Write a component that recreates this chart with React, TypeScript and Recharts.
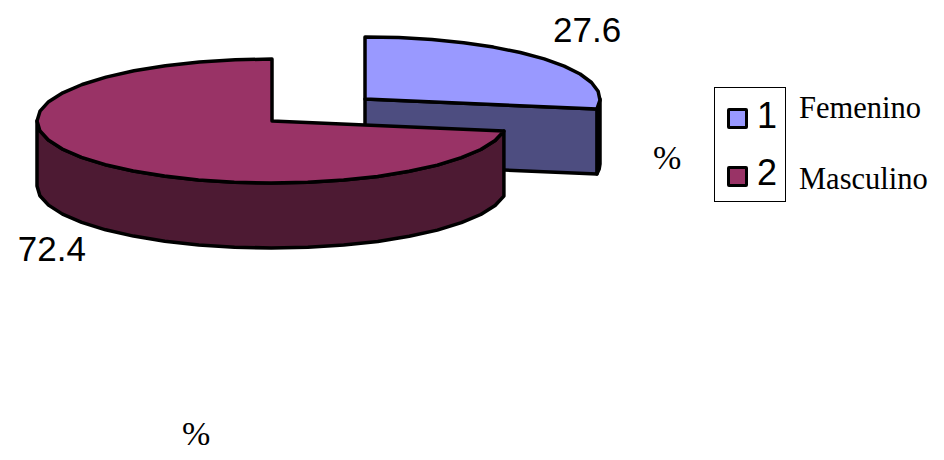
import { PieChart, Pie, Cell, Legend } from 'recharts';

const categories = ['1', '2'];
const genders = ['Femenino', 'Masculino'];
const values = [27.6, 72.4];

const topColors = ['#9999ff', '#993366'];
const wallColors = ['#4d4d80', '#4d1a33'];
const data = categories.map((name, i) => ({ name, value: values[i] }));

const RX = 235;
const RY = 62;
const DEPTH = 65;
const explode = [{ dx: 93, dy: -22 }, { dx: 0, dy: 0 }];
const labelOffset = [{ dx: 43, dy: -29 }, { dx: -41, dy: 22 }];
const rad = Math.PI / 180;

const rim = (cx: number, cy: number, a: number, rx = RX, ry = RY) => [cx + rx * Math.cos(a * rad), cy - ry * Math.sin(a * rad)];

// the reference is faceted, so the rim is walked in coarse steps
const arc = (cx: number, cy: number, from: number, to: number) => {
  const n = Math.max(1, Math.ceil(Math.abs(from - to) / 9));
  const pts = [];
  for (let i = 0; i <= n; i++) pts.push(rim(cx, cy, from + ((to - from) * i) / n));
  return pts;
};
const toPath = (pts: number[][]) => 'M' + pts.map((p) => p[0].toFixed(1) + ',' + p[1].toFixed(1)).join('L') + 'Z';

const Slice3D = (props: any) => {
  const { cx, cy, startAngle, endAngle, index } = props;
  const x = cx + explode[index].dx;
  const y = cy + explode[index].dy;
  const top = [[x, y], ...arc(x, y, startAngle, endAngle)];
  const faces = [];
  // outer wall, only the front half of the rim can be seen
  const from = Math.min(startAngle, 0);
  const to = Math.max(endAngle, -180);
  if (from > to) {
    const front = arc(x, y, from, to);
    const low = front.map((p) => [p[0], p[1] + DEPTH]).reverse();
    faces.push(toPath([...front, ...low]));
  }
  // cut face on the right of the slice
  const end = index === 0 ? rim(x, y, endAngle) : null;
  if (end) faces.push(toPath([[x, y], end, [end[0], end[1] + DEPTH], [x, y + DEPTH]]));
  return (
    <g>
      {faces.map((d, i) => (
        <path key={i} d={d} fill={wallColors[index]} stroke="#000" strokeWidth={3.5} strokeLinejoin="round" />
      ))}
      <path d={toPath(top)} fill={topColors[index]} stroke="#000" strokeWidth={3.5} strokeLinejoin="round" />
    </g>
  );
};

const renderLabel = (props: any) => {
  const { cx, cy, midAngle, index, value } = props;
  const p = rim(cx + explode[index].dx, cy + explode[index].dy, midAngle);
  const lift = index === 1 ? DEPTH : 0;
  return (
    <text
      x={p[0] + labelOffset[index].dx}
      y={p[1] + lift + labelOffset[index].dy}
      textAnchor="middle"
      dominantBaseline="central"
      fontFamily="Liberation Sans"
      fontSize={35}
      fill="#000"
    >
      {value.toFixed(1)}
    </text>
  );
};

const LegendBox = ({ payload }: any) => (
  <div style={{ position: 'relative', width: 230, height: 116 }}>
    <div style={{ position: 'absolute', left: 0, top: 0, width: 70, height: 113, border: '1.5px solid #000' }} />
    {(payload || []).map((item: any, i: number) => (
      <div key={item.value}>
        <div
          style={{
            position: 'absolute',
            left: 13,
            top: 21 + i * 58,
            width: 15,
            height: 15,
            background: topColors[i],
            border: '3px solid #000',
            borderRadius: 2,
          }}
        />
        <div
          style={{
            position: 'absolute',
            left: 43,
            top: 9 + i * 57,
            fontFamily: 'Liberation Sans',
            fontSize: 36,
            lineHeight: '40px',
            color: '#000',
          }}
        >
          {item.value}
        </div>
        <div
          style={{
            position: 'absolute',
            left: 85,
            top: 4 + i * 71,
            fontFamily: 'Liberation Serif',
            fontSize: 30.5,
            lineHeight: '34px',
            color: '#000',
          }}
        >
          {genders[i]}
        </div>
      </div>
    ))}
  </div>
);

const percentStyle = {
  position: 'absolute' as const,
  fontFamily: 'Liberation Serif',
  fontSize: 34,
  lineHeight: '36px',
  color: '#000',
};

export default function App() {
  return (
    <div style={{ position: 'absolute', left: 0, top: 0, width: 944, height: 460, background: '#fff', overflow: 'hidden' }}>
      <PieChart width={944} height={460} margin={{ top: 0, right: 0, bottom: 0, left: 0 }}>
        <Pie
          data={data}
          dataKey="value"
          nameKey="name"
          cx={272}
          cy={121}
          outerRadius={RX}
          startAngle={90}
          endAngle={-270}
          paddingAngle={0}
          isAnimationActive={false}
          shape={Slice3D}
          label={renderLabel}
          labelLine={false}
        >
          {data.map((d, i) => (
            <Cell key={d.name} fill={topColors[i]} />
          ))}
        </Pie>
        <Legend content={LegendBox} wrapperStyle={{ position: 'absolute', left: 714, top: 87, width: 230, height: 116 }} />
      </PieChart>
      <div style={{ ...percentStyle, left: 653, top: 140 }}>%</div>
      <div style={{ ...percentStyle, left: 182, top: 416 }}>%</div>
    </div>
  );
}
